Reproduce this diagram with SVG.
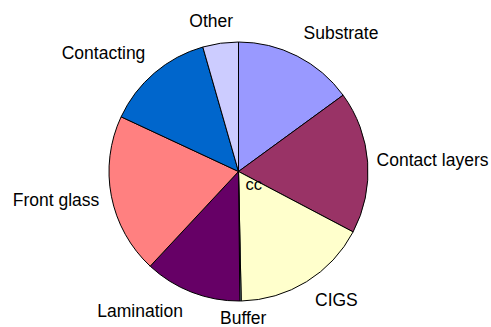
<svg xmlns="http://www.w3.org/2000/svg" width="491" height="327" viewBox="0 0 491 327">
<style>
.s{stroke:#000;stroke-width:1;stroke-linejoin:round}
.t{font-family:"Liberation Sans",Arial,sans-serif;font-size:17.5px;fill:#000}
.c{font-family:"Liberation Sans",Arial,sans-serif;font-size:16.5px;fill:#000}
</style>
<rect width="491" height="327" fill="#fff"/>
<g id="substrate"><path class="s" fill="#9999FF" d="M238.5,171.5 L238.5,42 A129.5,129.5 0 0 1 343.1,95.2 Z"/><text class="t" x="303.5" y="39">Substrate</text></g>
<g id="contact-layers"><path class="s" fill="#993366" d="M238.5,171.5 L343.1,95.2 A129.5,129.5 0 0 1 353.1,231.9 Z"/><text class="t" x="376.5" y="166" textLength="112" lengthAdjust="spacingAndGlyphs">Contact layers</text></g>
<g id="cigs"><path class="s" fill="#FFFFCC" d="M238.5,171.5 L353.1,231.9 A129.5,129.5 0 0 1 241.2,301 Z"/><text class="t" x="315" y="305.5">CIGS</text></g>
<g id="buffer"><path class="s" fill="#CCFFFF" d="M238.5,171.5 L241.2,301 A129.5,129.5 0 0 1 239.9,301 Z"/><text class="t" x="220" y="324.3">Buffer</text></g>
<g id="lamination"><path class="s" fill="#660066" d="M238.5,171.5 L239.9,301 A129.5,129.5 0 0 1 150.2,266.2 Z"/><text class="t" x="97.3" y="316.7">Lamination</text></g>
<g id="front-glass"><path class="s" fill="#FF8080" d="M238.5,171.5 L150.2,266.2 A129.5,129.5 0 0 1 121.1,116.8 Z"/><text class="t" x="12.7" y="205.7">Front glass</text></g>
<g id="contacting"><path class="s" fill="#0066CC" d="M238.5,171.5 L121.1,116.8 A129.5,129.5 0 0 1 202.8,47 Z"/><text class="t" x="61.7" y="59.3">Contacting</text></g>
<g id="other"><path class="s" fill="#CCCCFF" d="M238.5,171.5 L202.8,47 A129.5,129.5 0 0 1 238.5,42 Z"/><text class="t" x="189.3" y="26.7">Other</text></g>
<g id="center-label"><text class="c" x="245.5" y="190">cc</text></g>
<g id="connectors"></g>
</svg>
